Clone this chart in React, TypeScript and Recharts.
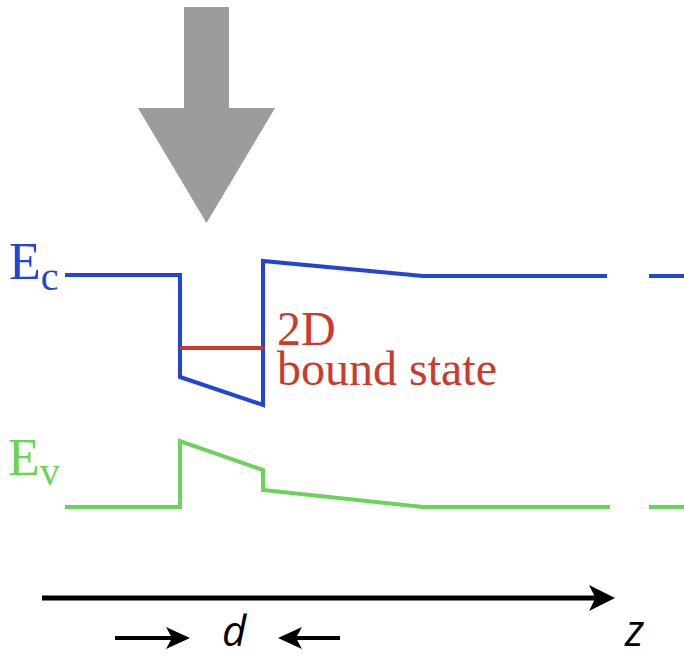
import React from 'react';
import { ComposedChart, Line, XAxis, YAxis, ReferenceArea, ReferenceLine, ReferenceDot } from 'recharts';

const W = 684;
const H = 656;

// Conduction band edge Ec (z position, energy)
const ecZ = [65, 180, 180, 263, 263, 423, 607];
const ecE = [381, 381, 279, 251, 395, 380, 380];
const ecTailZ = [649, 684];
const ecTailE = [380, 380];

// Valence band edge Ev
const evZ = [65, 180, 180, 263, 263, 423, 610];
const evE = [149, 149, 215, 186, 166, 149, 149];
const evTailZ = [649, 684];
const evTailE = [149, 149];

// 2D bound state level
const boundZ = [180, 263];
const boundE = [308, 308];

const zip = (zs: number[], es: number[]) => zs.map((z, i) => ({ z, e: es[i] }));

const BLUE = '#2444d6';
const GREEN = '#6bd35a';
const RED = '#cc3a2c';
const GRAY = '#9c9c9c';

const arrowShape = (width: number, headLen: number, headHalf: number) => (props: any) => {
  const { x1, y1, x2, y2 } = props;
  const dx = x2 - x1;
  const dy = y2 - y1;
  const len = Math.hypot(dx, dy) || 1;
  const ux = dx / len;
  const uy = dy / len;
  const px = -uy;
  const py = ux;
  const bx = x2 - ux * headLen;
  const by = y2 - uy * headLen;
  const nx = x2 - ux * (headLen * 0.75);
  const ny = y2 - uy * (headLen * 0.75);
  const pts = [
    [x2, y2],
    [bx + px * headHalf, by + py * headHalf],
    [nx, ny],
    [bx - px * headHalf, by - py * headHalf],
  ]
    .map((p) => p.join(','))
    .join(' ');
  return (
    <g>
      <line x1={x1} y1={y1} x2={nx} y2={ny} stroke="#000" strokeWidth={width} />
      <polygon points={pts} fill="#000" />
    </g>
  );
};

const triangleShape = (props: any) => {
  const { x, y, width, height } = props;
  return <polygon points={`${x},${y} ${x + width},${y} ${x + width / 2},${y + height}`} fill={GRAY} />;
};

const textShape = (content: React.ReactNode, style: any) => (props: any) => (
  <text x={props.cx} y={props.cy} {...style}>
    {content}
  </text>
);

const lineCommon = {
  dataKey: 'e',
  strokeWidth: 4,
  dot: false,
  activeDot: false,
  isAnimationActive: false,
  strokeLinejoin: 'miter' as const,
  strokeLinecap: 'butt' as const,
  strokeDasharray: '0',
};

export default function App() {
  return (
    <div style={{ position: 'absolute', left: 0, top: 0, width: W, height: H, background: '#fff' }}>
      <ComposedChart width={W} height={H} margin={{ top: 0, right: 0, bottom: 0, left: 0 }}>
        <XAxis hide type="number" dataKey="z" domain={[0, W]} allowDataOverflow />
        <YAxis hide type="number" domain={[0, H]} allowDataOverflow />

        {/* incident light arrow */}
        <ReferenceArea x1={184} x2={229} y1={548} y2={649} fill={GRAY} fillOpacity={1} stroke="none" ifOverflow="visible" />
        <ReferenceArea x1={138} x2={275} y1={433} y2={548} shape={triangleShape} ifOverflow="visible" />

        <Line {...lineCommon} data={zip(ecZ, ecE)} stroke={BLUE} />
        <Line {...lineCommon} data={zip(ecTailZ, ecTailE)} stroke={BLUE} />
        <Line {...lineCommon} data={zip(evZ, evE)} stroke={GREEN} />
        <Line {...lineCommon} data={zip(evTailZ, evTailE)} stroke={GREEN} />
        <Line {...lineCommon} data={zip(boundZ, boundE)} stroke={RED} />

        {/* z axis arrow */}
        <ReferenceLine segment={[{ x: 42, y: 58 }, { x: 615, y: 58 }]} shape={arrowShape(5, 26, 13)} ifOverflow="visible" />
        {/* d arrows */}
        <ReferenceLine segment={[{ x: 115, y: 18 }, { x: 190, y: 18 }]} shape={arrowShape(4, 24, 11)} ifOverflow="visible" />
        <ReferenceLine segment={[{ x: 340, y: 18 }, { x: 278, y: 18 }]} shape={arrowShape(4, 24, 11)} ifOverflow="visible" />

        {/* labels */}
        <ReferenceDot x={9} y={377} r={0} ifOverflow="visible"
          shape={textShape(<><tspan>E</tspan><tspan dy={11} fontSize={40}>c</tspan></>, { fill: BLUE, fontFamily: 'Liberation Serif', fontSize: 52 })} />
        <ReferenceDot x={8} y={181} r={0} ifOverflow="visible"
          shape={textShape(<><tspan>E</tspan><tspan dy={10} fontSize={40}>v</tspan></>, { fill: GREEN, fontFamily: 'Liberation Serif', fontSize: 52 })} />
        <ReferenceDot x={277} y={311} r={0} ifOverflow="visible"
          shape={textShape('2D', { fill: RED, fontFamily: 'Liberation Serif', fontSize: 48 })} />
        <ReferenceDot x={277} y={271} r={0} ifOverflow="visible"
          shape={textShape('bound state', { fill: RED, fontFamily: 'Liberation Serif', fontSize: 48 })} />
        <ReferenceDot x={222} y={10} r={0} ifOverflow="visible"
          shape={textShape('d', { fill: '#000', fontFamily: 'Open Sans', fontStyle: 'italic', fontSize: 42 })} />
        <ReferenceDot x={625} y={10} r={0} ifOverflow="visible"
          shape={textShape('z', { fill: '#000', fontFamily: 'Open Sans', fontStyle: 'italic', fontSize: 43 })} />
      </ComposedChart>
    </div>
  );
}
